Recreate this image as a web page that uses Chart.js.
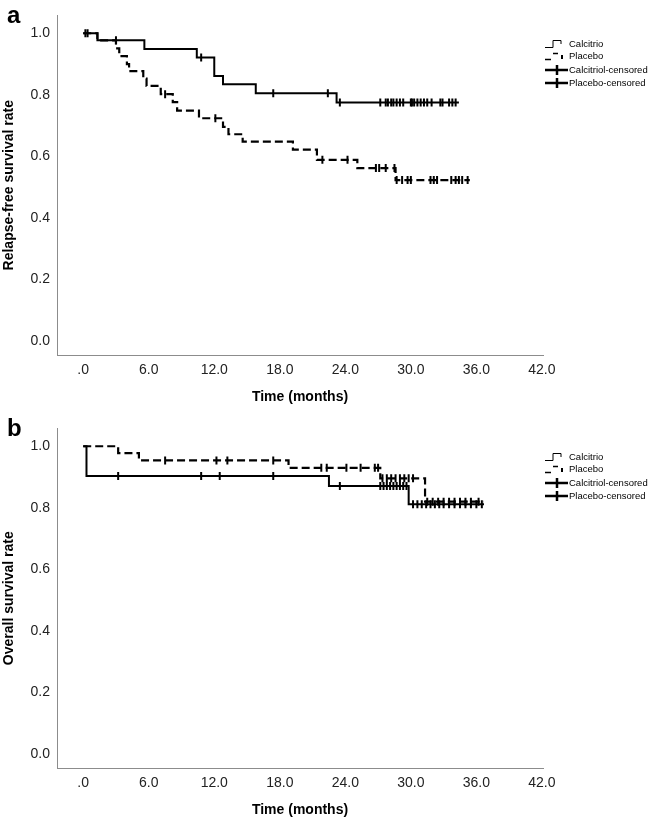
<!DOCTYPE html>
<html>
<head>
<meta charset="utf-8">
<script src="https://cdn.jsdelivr.net/npm/chart.js@4.4.1/dist/chart.umd.min.js"></script>
<style>
  body { margin: 0; background: #fff; overflow: hidden; }
  .panel { width: 649px; height: 413px; }
  canvas { display: block; }
</style>
</head>
<body>
<div class="panel"><canvas id="chartA" width="649" height="413"></canvas></div>
<div class="panel"><canvas id="chartB" width="649" height="413"></canvas></div>
<script>
// x ticks (months) and y ticks
const xTicks = [0, 6, 12, 18, 24, 30, 36, 42];
const yTicks = [0, 0.2, 0.4, 0.6, 0.8, 1.0];
const legendLabels = ["Calcitrio", "Placebo", "Calcitriol-censored", "Placebo-censored"];

// panel a : relapse-free survival, event times / survival after each step
const calA_t = [0, 1.3, 5.6, 10.4, 12.0, 12.8, 15.8, 23.2];
const calA_s = [1.0, 0.977, 0.949, 0.921, 0.861, 0.834, 0.805, 0.775];
const calA_end = 34.4;
const calA_cens = [0.4, 3.0, 10.8, 17.4, 22.4, 23.5, 27.2, 27.7, 27.9, 28.2, 28.4, 28.7, 29.0, 29.3,
  30.0, 30.1, 30.3, 30.6, 30.9, 31.2, 31.5, 31.9, 32.7, 32.9, 33.5, 33.8, 34.1];

const plaA_t = [0, 1.3, 3.0, 3.3, 4.0, 4.2, 5.5, 5.8, 7.1, 8.2, 8.6, 10.6, 12.8, 13.3, 14.6, 19.2, 21.4, 25.1, 28.6];
const plaA_s = [1.0, 0.977, 0.951, 0.926, 0.90, 0.877, 0.853, 0.829, 0.802, 0.776, 0.749, 0.724, 0.696, 0.672,
  0.648, 0.622, 0.589, 0.562, 0.523];
const plaA_end = 35.4;
const plaA_cens = [0.2, 7.5, 12.1, 21.9, 24.2, 26.8, 27.1, 27.7, 28.5, 28.7, 29.2, 29.7, 30.0, 31.8, 32.1,
  32.4, 33.7, 34.1, 34.4, 34.7, 35.2];

// panel b : overall survival
const calB_t = [0, 0.3, 22.5, 29.8];
const calB_s = [1.0, 0.903, 0.871, 0.812];
const calB_end = 36.7;
const calB_cens = [3.2, 10.8, 12.5, 17.4, 23.5, 27.2, 27.5, 27.8, 28.1, 28.4, 28.7, 29.0, 29.3, 29.6,
  30.2, 30.6, 31.0, 31.4, 31.8, 32.2, 32.6, 33.0, 33.5, 34.0, 34.5, 35.0, 35.5, 36.0, 36.5];

const plaB_t = [0, 3.2, 5.1, 18.8, 27.2, 31.3];
const plaB_s = [1.0, 0.978, 0.954, 0.930, 0.896, 0.820];
const plaB_end = 36.7;
const plaB_cens = [7.5, 12.2, 13.2, 17.4, 21.8, 22.3, 24.1, 25.4, 26.7, 27.0, 27.4, 27.8, 28.2, 28.6,
  29.0, 29.4, 29.8, 30.2, 31.5, 32.0, 32.5, 33.0, 33.5, 34.0, 34.5, 35.0, 35.5, 36.2];

const FONT = '"Liberation Sans", Arial, sans-serif';

function kmPoints(times, surv, end) {
    let pts = times.map((t, i) => ({ x: t, y: surv[i] }));
    pts.push({ x: end, y: surv[surv.length - 1] });
    return pts;
}

function survAt(times, surv, t) {
    let s = surv[0];
    for (var i = 0; i < times.length; i++) {
        if (times[i] <= t) s = surv[i];
    }
    return s;
}

function censPoints(cens, times, surv) {
    return cens.map(t => ({ x: t, y: survAt(times, surv, t) }));
}

/* legend + panel letter drawn on the canvas */
const decoPlugin = {
    id: "deco",
    afterDraw(chart, args, opts) {
        const ctx = chart.ctx;
        ctx.save();
        ctx.fillStyle = "#000";
        ctx.font = "bold 24px " + FONT;
        ctx.textBaseline = "alphabetic";
        ctx.fillText(opts.letter, 7, 23);

        ctx.font = "9.5px " + FONT;
        ctx.textBaseline = "middle";
        ctx.strokeStyle = "#000";
        const x0 = 545;
        legendLabels.forEach((lab, i) => {
            const y = opts.rows[i];
            ctx.setLineDash([]);
            if (i == 0) {
                ctx.lineWidth = 1;
                ctx.beginPath();
                ctx.moveTo(x0, y + 3.5);
                ctx.lineTo(x0 + 8, y + 3.5);
                ctx.lineTo(x0 + 8, y - 3.5);
                ctx.lineTo(x0 + 16, y - 3.5);
                ctx.lineTo(x0 + 16, y);
                ctx.stroke();
            } else if (i == 1) {
                ctx.lineWidth = 1.5;
                ctx.beginPath();
                ctx.moveTo(x0, y + 3.5);
                ctx.lineTo(x0 + 6, y + 3.5);
                ctx.moveTo(x0 + 8, y - 2.5);
                ctx.lineTo(x0 + 13, y - 2.5);
                ctx.stroke();
                ctx.lineWidth = 2;
                ctx.beginPath();
                ctx.moveTo(x0 + 17, y - 1);
                ctx.lineTo(x0 + 17, y + 3);
                ctx.stroke();
            } else {
                ctx.lineWidth = 2.5;
                ctx.beginPath();
                ctx.moveTo(x0, y);
                ctx.lineTo(x0 + 23, y);
                ctx.moveTo(x0 + 12, y - 5);
                ctx.lineTo(x0 + 12, y + 5);
                ctx.stroke();
            }
            ctx.fillText(lab, x0 + 24, y);
        });
        ctx.restore();
    }
};

function makeChart(id, yTitle, letter, cal, pla) {
    const config = {
        type: "line",
        data: {
            datasets: [
                {
                    label: "Calcitrio",
                    data: kmPoints(cal.t, cal.s, cal.end),
                    stepped: "before",
                    borderColor: "#000",
                    borderWidth: 2,
                    pointRadius: 0,
                    fill: false,
                },
                {
                    label: "Placebo",
                    data: kmPoints(pla.t, pla.s, pla.end),
                    stepped: "before",
                    borderColor: "#000",
                    borderWidth: 2.2,
                    borderDash: [8, 4],
                    pointRadius: 0,
                    fill: false,
                },
                {
                    label: "Calcitriol-censored",
                    data: censPoints(cal.cens, cal.t, cal.s),
                    showLine: false,
                    pointStyle: "line",
                    rotation: 90,
                    pointRadius: 4,
                    pointBorderWidth: 2,
                    pointBorderColor: "#000",
                    borderColor: "#000",
                },
                {
                    label: "Placebo-censored",
                    data: censPoints(pla.cens, pla.t, pla.s),
                    showLine: false,
                    pointStyle: "line",
                    rotation: 90,
                    pointRadius: 4,
                    pointBorderWidth: 2,
                    pointBorderColor: "#000",
                    borderColor: "#000",
                },
            ],
        },
        options: {
            responsive: false,
            animation: false,
            layout: { padding: { top: 11, right: 106, left: 0, bottom: 0 } },
            plugins: {
                legend: { display: false },
                tooltip: { enabled: false },
                deco: { letter: letter, rows: [44, 56, 70, 83] },
            },
            scales: {
                x: {
                    type: "linear",
                    min: -2.4,
                    max: 42.1,
                    afterBuildTicks: (s) => { s.ticks = xTicks.map((v) => ({ value: v })); },
                    afterFit: (s) => { s.height = 58; },
                    ticks: {
                        autoSkip: false,
                        maxRotation: 0,
                        padding: 7,
                        color: "#222",
                        font: { family: FONT, size: 14 },
                        callback: (v) => (v === 0 ? ".0" : v.toFixed(1)),
                    },
                    grid: { display: false, drawTicks: false },
                    border: { display: true, color: "#8c8c8c", width: 1 },
                    title: {
                        display: true,
                        text: "Time (months)",
                        color: "#000",
                        font: { family: FONT, size: 14, weight: "bold" },
                        padding: { top: 0, bottom: 7.6 },
                    },
                },
                y: {
                    min: -0.045,
                    max: 1.058,
                    afterBuildTicks: (s) => { s.ticks = yTicks.map((v) => ({ value: v })); },
                    afterFit: (s) => { s.width = 57; },
                    ticks: {
                        padding: 7,
                        color: "#222",
                        font: { family: FONT, size: 14 },
                        callback: (v) => v.toFixed(1),
                    },
                    grid: { display: false, drawTicks: false },
                    border: { display: true, color: "#8c8c8c", width: 1 },
                    title: {
                        display: true,
                        text: yTitle,
                        color: "#000",
                        font: { family: FONT, size: 14, weight: "bold" },
                        padding: { top: 1, bottom: 0 },
                    },
                },
            },
        },
        plugins: [decoPlugin],
    };
    return new Chart(document.getElementById(id), config);
}

makeChart("chartA", "Relapse-free survival rate", "a",
    { t: calA_t, s: calA_s, end: calA_end, cens: calA_cens },
    { t: plaA_t, s: plaA_s, end: plaA_end, cens: plaA_cens });
makeChart("chartB", "Overall survival rate", "b",
    { t: calB_t, s: calB_s, end: calB_end, cens: calB_cens },
    { t: plaB_t, s: plaB_s, end: plaB_end, cens: plaB_cens });
</script>
</body>
</html>
